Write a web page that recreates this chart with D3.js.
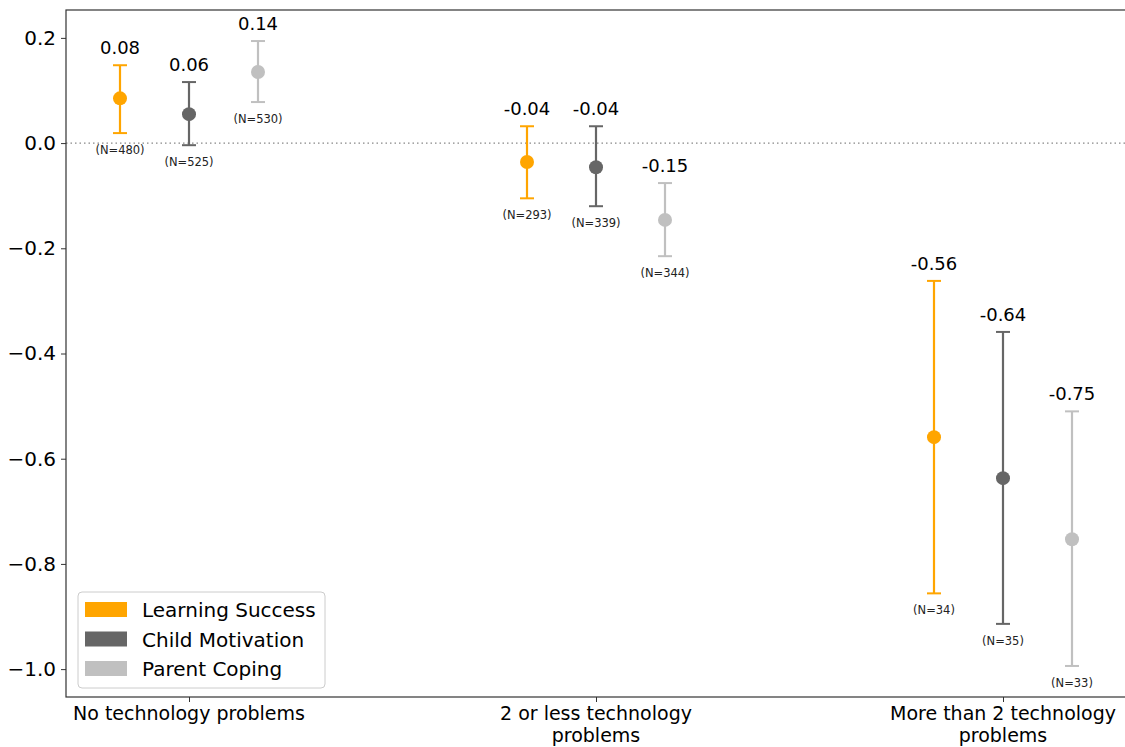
<!DOCTYPE html>
<html>
<head>
<meta charset="utf-8">
<script src="https://cdn.jsdelivr.net/npm/d3@7"></script>
<style>
  body { margin: 0; background: #fff; }
  svg text { font-family: "DejaVu Sans", sans-serif; }
</style>
</head>
<body>
<svg id="vis_svg" width="1125" height="747"></svg>
<script>
// categories and series
let groups = ['No technology problems', '2 or less technology problems', 'More than 2 technology problems'];
let series = ['Learning Success', 'Child Motivation', 'Parent Coping'];
let colors = ['#FFA500', '#666666', '#C0C0C0'];

// means, lower and upper CI bounds, per series (rows) and group (columns)
let means = [
    [0.085, -0.036, -0.559],
    [0.055, -0.046, -0.637],
    [0.135, -0.146, -0.753]
];
let lower = [
    [0.019, -0.105, -0.856],
    [-0.004, -0.120, -0.914],
    [0.078, -0.215, -0.994]
];
let upper = [
    [0.148, 0.032, -0.262],
    [0.116, 0.032, -0.359],
    [0.194, -0.076, -0.510]
];
let labels = [
    ['0.08', '-0.04', '-0.56'],
    ['0.06', '-0.04', '-0.64'],
    ['0.14', '-0.15', '-0.75']
];
let counts = [
    [480, 293, 34],
    [525, 339, 35],
    [530, 344, 33]
];
let yTicks = [0.2, 0.0, -0.2, -0.4, -0.6, -0.8, -1.0];

let svg = d3.select('svg#vis_svg');
let margin = {left: 66, top: 10, right: 1140, bottom: 697};

let y = d3.scaleLinear().domain([0.253, -1.053]).range([margin.top, margin.bottom]);
let x = d3.scalePoint().domain(groups).range([189, 1003]);
let offset = d3.scalePoint().domain(series).range([-69, 69]);

// zero line
svg.append('line')
    .attr('x1', margin.left).attr('x2', 1125)
    .attr('y1', y(0)).attr('y2', y(0))
    .attr('stroke', '#888').attr('stroke-width', 1.3)
    .attr('stroke-dasharray', '1.5,3');

// y axis
let yAxis = svg.append('g')
    .attr('transform', translate(margin.left, 0))
    .call(d3.axisLeft(y).tickValues(yTicks).tickSize(5).tickFormat(d => d3.format('.1f')(d).replace('-', '\u2212')));
yAxis.select('.domain').remove();
yAxis.selectAll('text').attr('font-size', 20).attr('fill', '#000').attr('dx', -2);
yAxis.selectAll('line').attr('stroke', '#333');

// x axis
let xAxis = svg.append('g')
    .attr('transform', translate(0, margin.bottom))
    .call(d3.axisBottom(x).tickSize(5).tickFormat(''));
xAxis.select('.domain').remove();
xAxis.selectAll('line').attr('stroke', '#333');

// tick labels, wrapped like the original
let wrapped = {
    'No technology problems': ['No technology problems'],
    '2 or less technology problems': ['2 or less technology', 'problems'],
    'More than 2 technology problems': ['More than 2 technology', 'problems']
};
groups.forEach(function(g) {
    wrapped[g].forEach(function(line, i) {
        svg.append('text')
            .attr('x', x(g)).attr('y', margin.bottom + 23 + i * 21.5)
            .attr('text-anchor', 'middle')
            .attr('font-size', 19)
            .attr('fill', '#000')
            .text(line);
    });
});

// frame
svg.append('rect')
    .attr('x', margin.left).attr('y', margin.top)
    .attr('width', margin.right - margin.left).attr('height', margin.bottom - margin.top)
    .attr('fill', 'none').attr('stroke', '#333').attr('stroke-width', 1.2);

// error bars and points
series.forEach(function(s, si) {
    let g = svg.append('g').attr('class', 'series');
    groups.forEach(function(grp, gi) {
        let cx = x(grp) + offset(s);
        let col = colors[si];
        g.append('line')
            .attr('x1', cx).attr('x2', cx)
            .attr('y1', y(upper[si][gi])).attr('y2', y(lower[si][gi]))
            .attr('stroke', col).attr('stroke-width', 2.2);
        [upper[si][gi], lower[si][gi]].forEach(function(v) {
            g.append('line')
                .attr('x1', cx - 7).attr('x2', cx + 7)
                .attr('y1', y(v)).attr('y2', y(v))
                .attr('stroke', col).attr('stroke-width', 2);
        });
        g.append('circle')
            .attr('cx', cx).attr('cy', y(means[si][gi]))
            .attr('r', 7)
            .attr('fill', col);
        g.append('text')
            .attr('x', cx).attr('y', y(upper[si][gi]) - 11)
            .attr('text-anchor', 'middle')
            .attr('font-size', 18)
            .attr('fill', '#000')
            .text(labels[si][gi]);
        g.append('text')
            .attr('x', cx).attr('y', y(lower[si][gi]) + 21)
            .attr('text-anchor', 'middle')
            .attr('font-size', 11.5)
            .attr('fill', '#222')
            .text('(N=' + counts[si][gi] + ')');
    });
});

// legend
let legend = svg.append('g').attr('transform', translate(78, 592));
legend.append('rect')
    .attr('width', 247).attr('height', 96).attr('rx', 4)
    .attr('fill', '#fff').attr('fill-opacity', 0.8)
    .attr('stroke', '#ccc');
series.forEach(function(s, i) {
    legend.append('rect')
        .attr('x', 7).attr('y', 10 + i * 29.5)
        .attr('width', 42).attr('height', 15)
        .attr('fill', colors[i]);
    legend.append('text')
        .attr('x', 64).attr('y', 25 + i * 29.5)
        .attr('font-size', 20)
        .attr('fill', '#000')
        .text(s);
});

function translate(a, b) {
    return 'translate(' + String(a) + ',' + String(b) + ')';
}
</script>
</body>
</html>
